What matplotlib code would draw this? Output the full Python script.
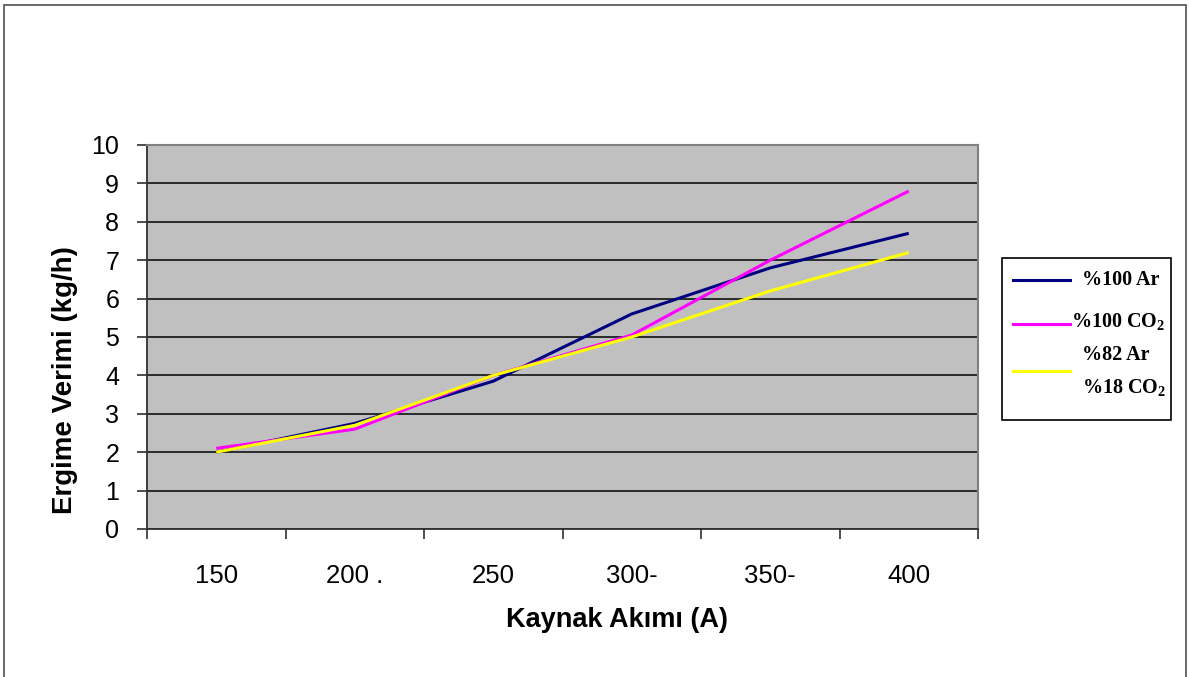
import matplotlib
matplotlib.use("Agg")
import matplotlib.pyplot as plt
from matplotlib.patches import Rectangle
from matplotlib.lines import Line2D
from matplotlib.ticker import FixedLocator, NullFormatter

# Welding current categories and deposition rate (kg/h) per shielding gas
currents = ["150", "200 .", "250", "300-", "350-", "400"]
ar_100 = [2.0, 2.75, 3.85, 5.6, 6.8, 7.7]
co2_100 = [2.1, 2.6, 4.0, 5.05, 7.0, 8.8]
ar82_co2_18 = [2.0, 2.7, 4.0, 5.0, 6.2, 7.2]

series_labels = ["%100 Ar", "%100 CO$_2$", "%82 Ar\n%18 CO$_2$"]
series_colors = ["#000080", "#FF00FF", "#FFFF00"]

plt.rcParams["font.family"] = ["Liberation Sans", "DejaVu Sans"]
plt.rcParams["mathtext.fontset"] = "custom"
plt.rcParams["mathtext.rm"] = "Liberation Serif:bold"
plt.rcParams["mathtext.it"] = "Liberation Serif:bold"
plt.rcParams["mathtext.bf"] = "Liberation Serif:bold"

W, H = 1189, 677
fig = plt.figure(figsize=(W / 100, H / 100), dpi=100)
fig.patch.set_facecolor("white")


def fx(px):
    return px / W


def fy(py):
    return 1 - py / H


# outer frame around the whole chart
fig.add_artist(Rectangle((fx(4), -0.02), fx(1182), 1.02 - 5 / H,
                         transform=fig.transFigure, fill=False,
                         edgecolor="#505050", linewidth=1.2))

ax = fig.add_axes([fx(147), fy(529), fx(831), 384 / H])
ax.set_facecolor("#C0C0C0")

x = list(range(len(currents)))
for vals, col, lab in zip([ar_100, co2_100, ar82_co2_18], series_colors, series_labels):
    ax.plot(x, vals, color=col, linewidth=2.2, label=lab,
            solid_joinstyle="round", solid_capstyle="butt", zorder=3)

ax.set_ylim(0, 10)
ax.set_xlim(-0.5, len(currents) - 0.5)
ax.set_yticks(range(0, 11))
ax.yaxis.grid(True, color="#111111", linewidth=1.2)
ax.set_axisbelow(True)

# category boundaries carry the tick marks; centres carry the labels
ax.xaxis.set_major_locator(FixedLocator([i - 0.5 for i in range(len(currents) + 1)]))
ax.xaxis.set_major_formatter(NullFormatter())
ax.xaxis.set_minor_locator(FixedLocator(x))
ax.set_xticklabels(currents, minor=True)
ax.tick_params(axis="x", which="major", length=7, width=1.2, color="#303030", direction="out")
ax.tick_params(axis="x", which="minor", length=0, pad=25, labelsize=18.5)
ax.tick_params(axis="y", length=7, width=1.2, color="#303030", direction="out",
               pad=13, labelsize=18)

for side in ("top", "right"):
    ax.spines[side].set_color("#808080")
    ax.spines[side].set_linewidth(1.5)
for side in ("left", "bottom"):
    ax.spines[side].set_color("#303030")
    ax.spines[side].set_linewidth(1.3)

ax.set_xlabel("Kaynak Akımı (A)", fontsize=19.5, fontweight="bold")
ax.xaxis.set_label_coords((617 - 147) / 831, (529 - 620) / 384)
ax.xaxis.label.set_va("center")
ax.set_ylabel("Ergime Verimi (kg/h)", fontsize=20, fontweight="bold")
ax.yaxis.set_label_coords((65 - 147) / 831, (529 - 380) / 384)
ax.yaxis.label.set_va("center")

# legend box with a key line and text for each gas mixture
fig.add_artist(Rectangle((fx(1002), fy(420)), fx(169), 162 / H,
                         transform=fig.transFigure, facecolor="white",
                         edgecolor="black", linewidth=1.2, zorder=5))
key_rows = [280, 324, 371]
text_rows = [(1082, [280]), (1071, [322]), (1082, [355, 388])]
leg_font = {"family": "Liberation Serif", "weight": "bold", "size": 14.5}
for col, lab, ky, (tx, tys) in zip(series_colors, series_labels, key_rows, text_rows):
    fig.add_artist(Line2D([fx(1013), fx(1070)], [fy(ky), fy(ky)],
                          transform=fig.transFigure, color=col, linewidth=2.2, zorder=6))
    for part, ty in zip(lab.split("\n"), tys):
        fig.text(fx(tx), fy(ty), part, ha="left", va="center", zorder=7, **leg_font)

fig.savefig("out.png", dpi=100)
